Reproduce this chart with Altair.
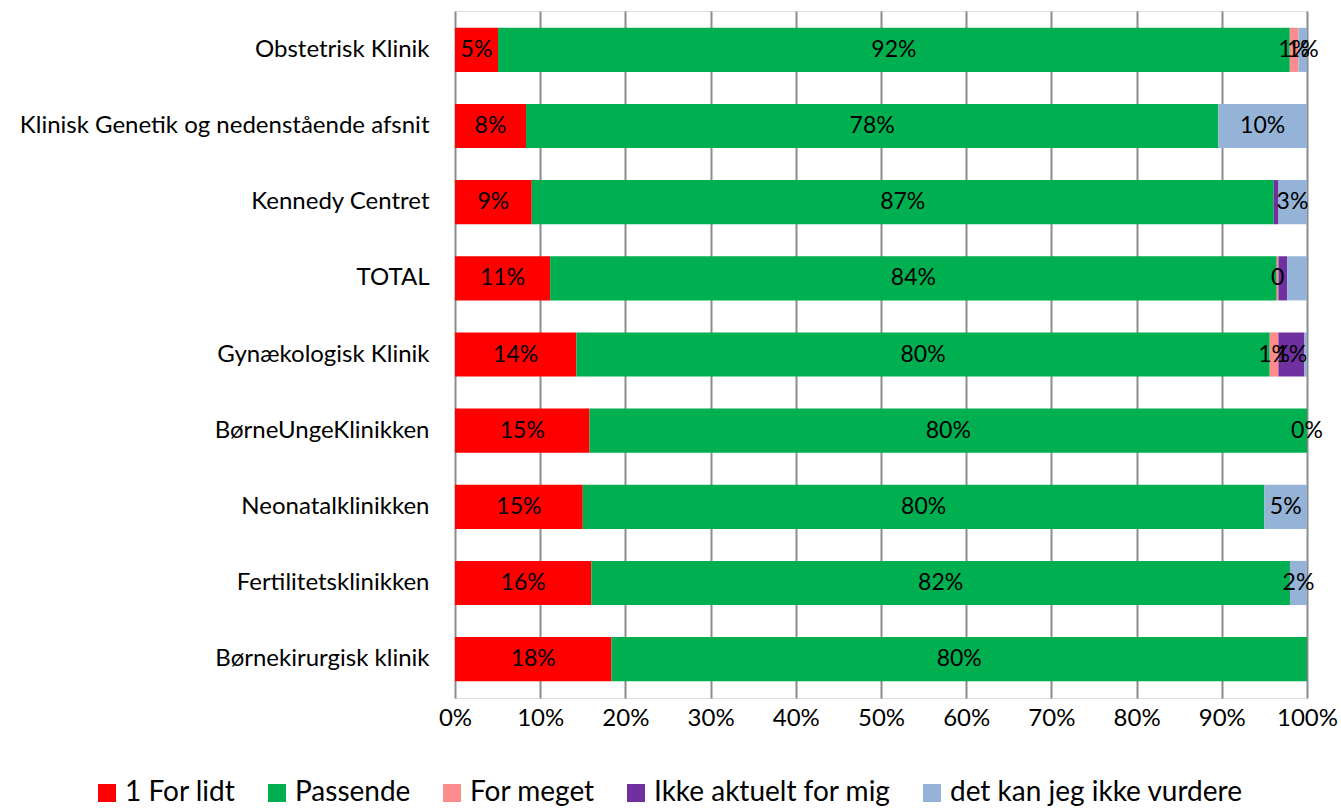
import altair as alt
import pandas as pd

units = [
    "Obstetrisk Klinik",
    "Klinisk Genetik og nedenstående afsnit ",
    "Kennedy Centret",
    "TOTAL",
    "Gynækologisk Klinik",
    "BørneUngeKlinikken",
    "Neonatalklinikken ",
    "Fertilitetsklinikken ",
    "Børnekirurgisk klinik",
]
series = ["1 For lidt", "Passende", "For meget", "Ikke aktuelt for mig", "det kan jeg ikke vurdere"]
colors = ["#FF0000", "#00B050", "#FF8C8C", "#7030A0", "#95B3D7"]

for_lidt = [5, 8, 9, 11, 14, 15, 15, 16, 18]
passende = [92, 78, 87, 84, 80, 80, 80, 82, 80]
for_meget = [1, 0, 0, 0.2, 1, 0, 0, 0, 0]
ikke_aktuelt = [0, 0, 0.5, 1, 3, 0, 0, 0, 0]
kan_ikke = [1, 10, 3.4, 2.3, 0.3, 0, 5, 2, 0]

lbl_for_lidt = ["5%", "8%", "9%", "11%", "14%", "15%", "15%", "16%", "18%"]
lbl_passende = ["92%", "78%", "87%", "84%", "80%", "80%", "80%", "82%", "80%"]
lbl_for_meget = ["1%", "", "", "0", "1%", "0%", "", "", ""]
lbl_ikke_aktuelt = ["", "", "", "", "1%", "", "", "", ""]
lbl_kan_ikke = ["1%", "10%", "3%", "", "", "", "5%", "2%", ""]

values = [for_lidt, passende, for_meget, ikke_aktuelt, kan_ikke]
labels = [lbl_for_lidt, lbl_passende, lbl_for_meget, lbl_ikke_aktuelt, lbl_kan_ikke]

rows = []
for si, s in enumerate(series):
    for ui, u in enumerate(units):
        rows.append({"unit": u, "series": s, "order": si,
                     "value": values[si][ui], "label": labels[si][ui]})
df = pd.DataFrame(rows)

FONT = "Lato"

base = alt.Chart(df).transform_stack(
    stack="value", groupby=["unit"], sort=[alt.SortField("order")],
    offset="normalize", as_=["x0", "x1"]
).transform_calculate(mid="(datum.x0 + datum.x1) / 2")

y_enc = alt.Y("unit:N", sort=units, title=None,
              scale=alt.Scale(paddingInner=0.42, paddingOuter=0.22),
              axis=alt.Axis(labelFont=FONT, labelFontSize=24, labelColor="#000000",
                            labelPadding=26, ticks=False, domain=False, grid=False,
                            labelLimit=500))

bars = base.mark_bar().encode(
    x=alt.X("x0:Q", title=None,
            scale=alt.Scale(domain=[0, 1], nice=False),
            axis=alt.Axis(format=".0%", values=[i / 10 for i in range(11)],
                          labelFont=FONT, labelFontSize=24, labelColor="#000000",
                          labelPadding=8, labelFlush=False, labelOverlap=False,
                          ticks=False, domain=False,
                          grid=True, gridColor="#8C8C8C", gridWidth=2)),
    x2="x1:Q",
    y=y_enc,
    color=alt.Color("series:N", sort=series,
                    scale=alt.Scale(domain=series, range=colors),
                    legend=alt.Legend(title=None, orient="none", direction="horizontal",
                                      legendX=-362, legendY=768,
                                      symbolType="square", symbolSize=324,
                                      symbolStrokeWidth=0,
                                      labelFont=FONT, labelFontSize=28, labelColor="#000000",
                                      labelOffset=4, columnPadding=27,
                                      labelLimit=600)),
    order=alt.Order("order:Q"),
)

text = base.mark_text(font=FONT, fontSize=23, color="#000000").encode(
    x=alt.X("mid:Q"),
    y=alt.Y("unit:N", sort=units),
    text="label:N",
)

chart = alt.layer(bars, text).properties(
    width=852, height=687,
    autosize=alt.AutoSizeParams(type="none"),
    padding={"left": 455, "top": 11, "right": 34, "bottom": 111},
).configure_view(stroke=None).configure(background="#FFFFFF")

chart.save("out.html", embed_options={"renderer": "svg", "actions": False})
